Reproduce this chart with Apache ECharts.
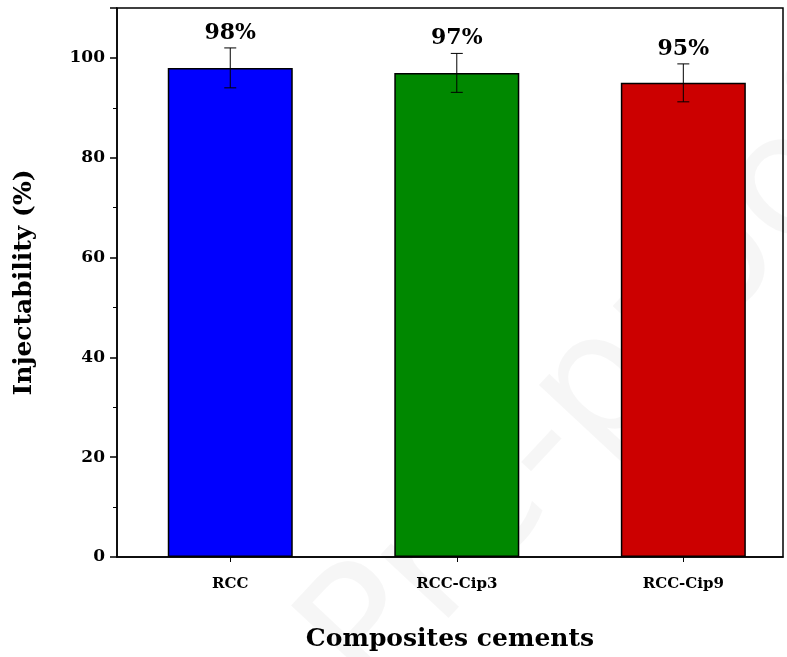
<!DOCTYPE html>
<html><head><meta charset="utf-8">
<script src="https://cdn.jsdelivr.net/npm/echarts@6/dist/echarts.min.js"></script>
<style>html,body{margin:0;background:#fff}#c{width:787px;height:657px}</style>
</head><body><div id="c"></div>
<script>
const categories = ['RCC', 'RCC-Cip3', 'RCC-Cip9'];
const values = [98, 97, 95];
const errors = [4, 3.9, 3.8];
const colors = ['#0000ff', '#008800', '#cc0000'];
const font = 'DejaVu Serif';

const chart = echarts.init(document.getElementById('c'));
chart.setOption({
  animation: false,
  graphic: [{
    type: 'text', x: 400, y: 730, rotation: 0.82, originX: 0, originY: 0,
    style: { text: 'Pre-proof', font: '170px "DejaVu Sans"', fill: 'rgba(0,0,0,0.035)', verticalAlign: 'bottom' }
  }],
  grid: { left: 117, right: 4, top: 8, bottom: 99, show: true, borderColor: '#000', borderWidth: 1.5 },
  xAxis: {
    type: 'value', min: 0.5, max: 3.44,
    name: 'Composites cements', nameLocation: 'middle', nameGap: 70,
    nameTextStyle: { fontFamily: font, fontWeight: 'bold', fontSize: 25, color: '#000' },
    splitLine: { show: false },
    axisLine: { lineStyle: { color: '#000', width: 1.5 } },
    axisTick: { customValues: [1, 2, 3], length: 5, lineStyle: { color: '#000' } },
    axisLabel: { customValues: [1, 2, 3], formatter: v => categories[Math.round(v) - 1] || '',
      fontFamily: font, fontWeight: 'bold', fontSize: 15, color: '#000', margin: 20 }
  },
  yAxis: {
    type: 'value', min: 0, max: 110, interval: 20,
    name: 'Injectability (%)', nameLocation: 'middle', nameGap: 80,
    nameTextStyle: { fontFamily: font, fontWeight: 'bold', fontSize: 25, color: '#000' },
    splitLine: { show: false },
    axisLine: { show: true, lineStyle: { color: '#000', width: 1.5 } },
    axisTick: { length: 7, lineStyle: { color: '#000', width: 1.5 } },
    minorTick: { show: true, splitNumber: 2, length: 4, lineStyle: { color: '#000' } },
    axisLabel: { fontFamily: font, fontWeight: 'bold', fontSize: 17, color: '#000', margin: 12,
      formatter: v => v > 100 ? '' : v }
  },
  series: [{
    type: 'bar', barWidth: 125,
    data: values.map((v, i) => ({ value: [i + 1, v], itemStyle: { color: colors[i] } })),
    itemStyle: { borderColor: '#000', borderWidth: 1.5 }
  }, {
    type: 'custom', z: 10,
    data: values.map((v, i) => [i + 1, v, errors[i]]),
    renderItem: (p, api) => {
      const x = api.value(0), y = api.value(1), e = api.value(2);
      const hi = api.coord([x, y + e]), lo = api.coord([x, y - e]);
      const w = 6;
      return { type: 'group', children: [
        { type: 'line', shape: { x1: hi[0], y1: hi[1], x2: lo[0], y2: lo[1] }, style: { stroke: '#000', lineWidth: 1 } },
        { type: 'line', shape: { x1: hi[0] - w, y1: hi[1], x2: hi[0] + w, y2: hi[1] }, style: { stroke: '#000', lineWidth: 1 } },
        { type: 'line', shape: { x1: lo[0] - w, y1: lo[1], x2: lo[0] + w, y2: lo[1] }, style: { stroke: '#000', lineWidth: 1 } },
        { type: 'text', style: { text: values[p.dataIndex] + '%', x: hi[0], y: hi[1] - 4,
          align: 'center', verticalAlign: 'bottom', font: 'bold 22px "DejaVu Serif"', fill: '#000' } }
      ]};
    }
  }]
});
</script></body></html>
